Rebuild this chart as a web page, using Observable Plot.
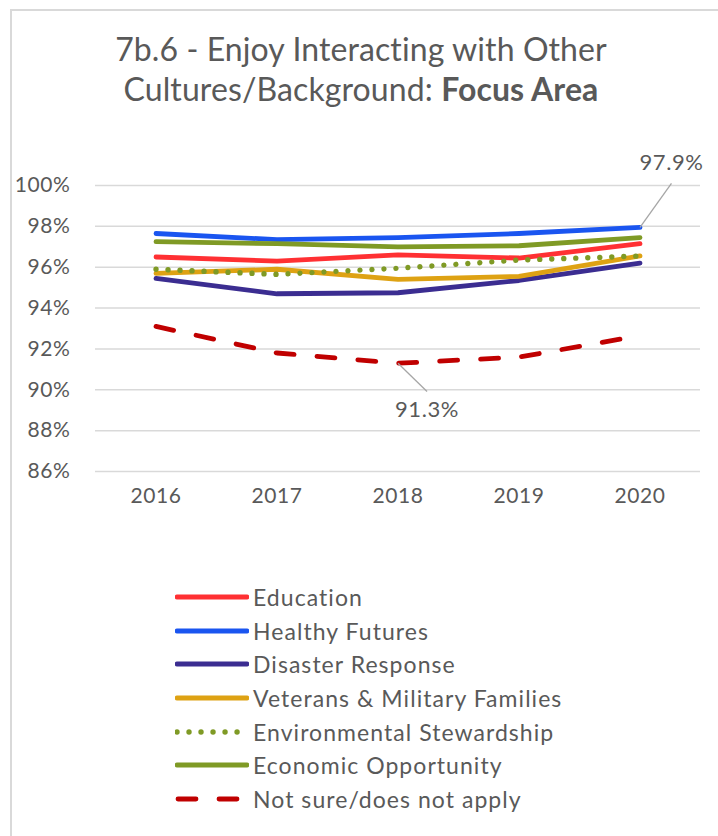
<!DOCTYPE html>
<html>
<head>
<meta charset="utf-8">
<script src="https://cdn.jsdelivr.net/npm/d3@7"></script>
<script src="https://cdn.jsdelivr.net/npm/@observablehq/plot@0.6"></script>
<style>
  body { margin: 0; background: #fff; font-family: Lato, "Open Sans", sans-serif; color: #595959; }
  #wrap { position: relative; width: 718px; height: 836px; overflow: hidden; }
  #frame { position: absolute; left: 10px; top: 9px; width: 760px; height: 900px;
           border-left: 2px solid #d9d9d9; border-top: 2px solid #d9d9d9; }
  #title { position: absolute; top: 29px; left: 2px; width: 718px; text-align: center;
           font-size: 32px; line-height: 40px; color: #595959; letter-spacing: 0.1px; }
  #title b { font-weight: 700; }
  #chart { position: absolute; left: 0; top: 160px; }
  #legend { position: absolute; left: 175px; top: 580px; }
  .row { display: flex; align-items: center; height: 33.7px; font-size: 23px; letter-spacing: 1.05px; color: #595959; }
  .row svg { margin-right: 4px; }
</style>
</head>
<body>
<div id="wrap">
  <div id="frame"></div>
  <div id="title">7b.6 - Enjoy Interacting with Other<br>Cultures/Background: <b>Focus Area</b></div>
  <div id="chart"></div>
  <div id="legend"></div>
</div>
<script>
// ---- data ----
const years = [2016, 2017, 2018, 2019, 2020];
const yTicks = [86, 88, 90, 92, 94, 96, 98, 100];
const seriesNames = ["Education", "Healthy Futures", "Disaster Response", "Veterans & Military Families",
                     "Environmental Stewardship", "Economic Opportunity", "Not sure/does not apply"];
const education         = [96.5, 96.3, 96.6, 96.45, 97.15];
const healthyFutures    = [97.65, 97.35, 97.45, 97.65, 97.95];
const disasterResponse  = [95.45, 94.7, 94.75, 95.35, 96.2];
const veterans          = [95.7, 95.9, 95.4, 95.55, 96.55];
const environmental     = [95.9, 95.65, 95.95, 96.35, 96.55];
const economic          = [97.25, 97.15, 97.0, 97.05, 97.45];
const notSure           = [93.1, 91.8, 91.3, 91.6, 92.65];
const seriesValues = [education, healthyFutures, disasterResponse, veterans, environmental, economic, notSure];
// annotations: the labelled point, the leader end and the label position (data units)
const annYears  = [2020, 2018];
const annValues = [97.95, 91.3];
const annLabels = ["97.9%", "91.3%"];
const annLeadX  = [2020.26, 2018.24];
const annLeadY  = [100.1, 89.92];
const annTextY  = [101.08, 88.99];

// ---- styles ----
const colors = ["#ff3033", "#1a55f0", "#3b2d91", "#dea213", "#7f9a25", "#7f9a25", "#c00000"];
const dashes = [null, null, null, null, "0.01,12", null, "18,23"];
const widths = [4.8, 4.8, 4.8, 4.8, 5.4, 4.8, 4.8];

const rows = [];
seriesNames.forEach((name, i) => years.forEach((yr, j) => rows.push({series: name, year: yr, value: seriesValues[i][j]})));
const ann = annLabels.map((l, i) => ({label: l, x: annYears[i], y: annValues[i], lx: annLeadX[i], ly: annLeadY[i], ty: annTextY[i]}));

const font = 'Lato, "Open Sans", sans-serif';
const marks = [
  Plot.gridY(yTicks, {stroke: "#d9d9d9", strokeOpacity: 1, strokeWidth: 1.5}),
  Plot.axisY(yTicks, {tickSize: 0, tickPadding: 25, tickFormat: d => d + "%", fontSize: 21, fill: "#595959", label: null}),
  Plot.axisX(years, {tickSize: 0, tickPadding: 17, tickFormat: d => String(d), fontSize: 21, fill: "#595959", label: null}),
];
seriesNames.forEach((name, i) => {
  marks.push(Plot.line(rows.filter(r => r.series === name), {
    x: "year", y: "value", stroke: colors[i], strokeWidth: widths[i],
    strokeDasharray: dashes[i] || undefined, strokeLinecap: "round", strokeLinejoin: "round"
  }));
});
marks.push(Plot.link(ann, {x1: "x", y1: "y", x2: "lx", y2: "ly", stroke: "#a6a6a6", strokeWidth: 1.3}));
marks.push(Plot.text(ann, {x: "lx", y: "ty", text: "label", fontSize: 22, fill: "#595959"}));

const chart = Plot.plot({
  width: 718, height: 360,
  marginTop: 25, marginBottom: 49, marginLeft: 95, marginRight: 18,
  style: {fontFamily: font, background: "transparent", overflow: "visible", letterSpacing: "0.6px"},
  x: {type: "linear", domain: [2015.5, 2020.5]},
  y: {domain: [86, 100]},
  marks
});
document.getElementById("chart").appendChild(chart);

// ---- legend ----
const legend = d3.select("#legend");
seriesNames.forEach((name, i) => {
  const row = legend.append("div").attr("class", "row");
  const svg = row.append("svg").attr("width", 74).attr("height", 12);
  svg.append("line").attr("x1", i === 6 ? 3 : 2).attr("x2", i === 4 ? 68 : 72).attr("y1", 6).attr("y2", 6)
    .attr("stroke", colors[i]).attr("stroke-width", widths[i]).attr("stroke-linecap", "round")
    .attr("stroke-dasharray", dashes[i]);
  row.append("span").text(name);
});
</script>
</body>
</html>
